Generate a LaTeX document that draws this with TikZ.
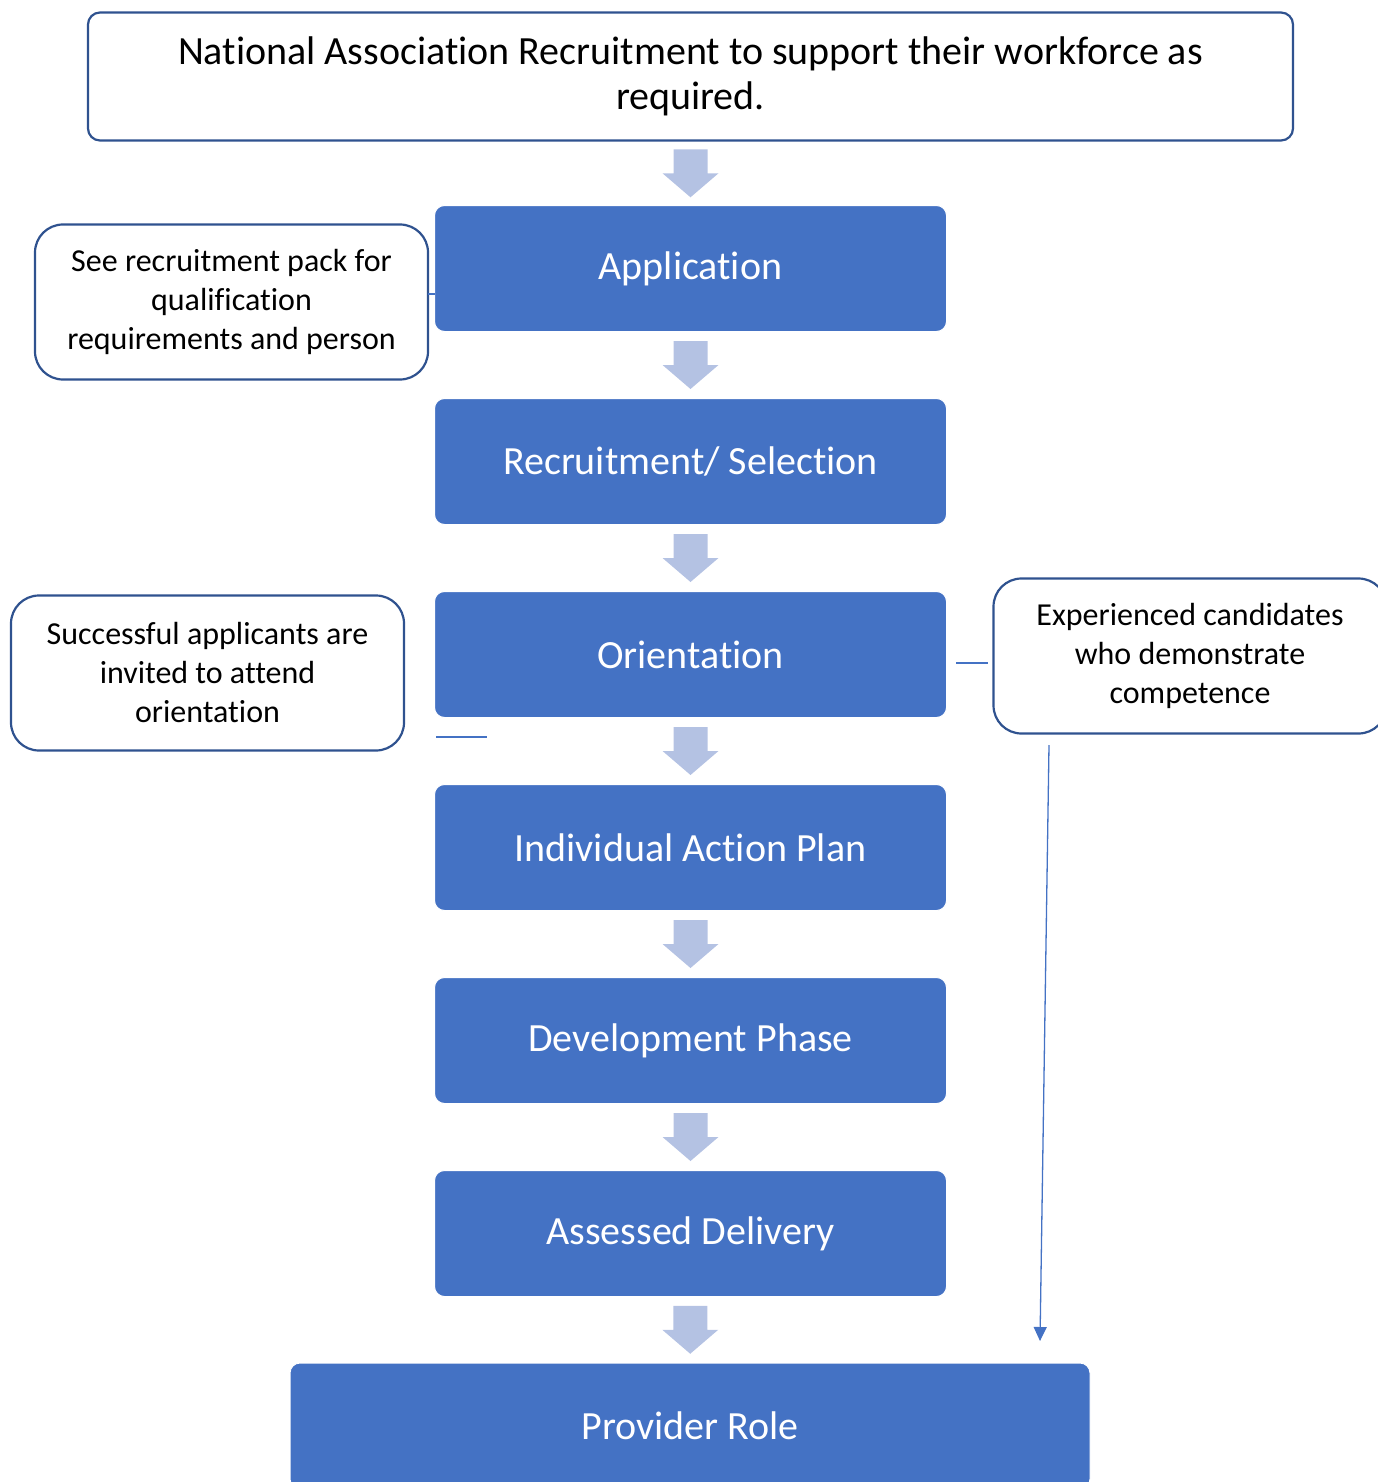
\documentclass[tikz,border=0pt]{standalone}
\usepackage{fontspec}
\setmainfont{Carlito}[Ligatures=NoCommon]
\usetikzlibrary{arrows.meta,calc}
\definecolor{mainblue}{HTML}{4472C4}
\definecolor{edgeblue}{HTML}{2F528F}
\definecolor{arrowblue}{HTML}{B4C2E3}
\tikzset{
  stepbox/.style={fill=mainblue, draw=white, line width=1pt, rounded corners=10pt,
    minimum width=512pt, minimum height=126pt, text=white, inner sep=0pt,
    font=\fontsize{40}{48}\selectfont},
  notebox/.style={draw=edgeblue, line width=2.2pt, fill=white, rounded corners=28pt,
    minimum width=393pt, minimum height=155pt, align=center, inner sep=0pt,
    font=\fontsize{32}{39}\selectfont},
  topbox/.style={draw=edgeblue, line width=2.2pt, fill=white, rounded corners=12pt,
    minimum width=1205pt, minimum height=128pt, align=center, inner sep=0pt,
    font=\fontsize{40}{45}\selectfont},
  thinline/.style={draw=mainblue, line width=1.3pt},
  downarrow/.pic={\fill[arrowblue] (-17,-24) -- (17,-24) -- (17,0) -- (28,0) -- (0,24) -- (-28,0) -- (-17,0) -- cycle;}
}
\begin{document}
\begin{tikzpicture}[x=1pt,y=-1pt]
\useasboundingbox (0,0) rectangle (1377,1482);
\node[topbox] (top) at (690.5,76.5) {National Association Recruitment to support their workforce as\\required.};
\node[stepbox] (app) at (690.5,268.5) {Application};
\node[stepbox] (rec) at (690.5,461.5) {Recruitment/ Selection};
\node[stepbox] (ori) at (690.5,654.5) {Orientation};
\node[stepbox] (iap) at (690.5,847.5) {Individual Action Plan};
\node[stepbox] (dev) at (690.5,1040.5) {Development Phase};
\node[stepbox] (ass) at (690.5,1233.5) {Assessed Delivery};
\node[stepbox, minimum width=800pt] (pro) at (690,1426) {Provider Role};
\node[notebox] (n1) at (231.5,302) {See recruitment pack for\\qualification\\requirements and person};
\node[notebox] (n2) at (207.5,673) {Successful applicants are\\invited to attend\\orientation};
\node[notebox] (n3) at (1190,656) {Experienced candidates\\who demonstrate\\competence};
\foreach \a/\b in {top/app, app/rec, rec/ori, ori/iap, iap/dev, dev/ass, ass/pro}
  \pic at ($(\a.south)!0.5!(\b.north)$) {downarrow};
\coordinate (c1a) at (428,294);
\coordinate (c1b) at (435,294);
\draw[thinline] (c1a) -- (c1b);
\coordinate (l2a) at (436,737);
\coordinate (l2b) at (487,737);
\draw[thinline] (l2a) -- (l2b);
\coordinate (c3a) at (956,663);
\coordinate (c3b) at (988,663);
\draw[thinline] (c3a) -- (c3b);
\coordinate (arrstart) at (1049,745);
\coordinate (arrend) at (1040,1341);
\draw[thinline, -{Triangle[length=14pt,width=13pt]}] (arrstart) -- (arrend);
\end{tikzpicture}
\end{document}
